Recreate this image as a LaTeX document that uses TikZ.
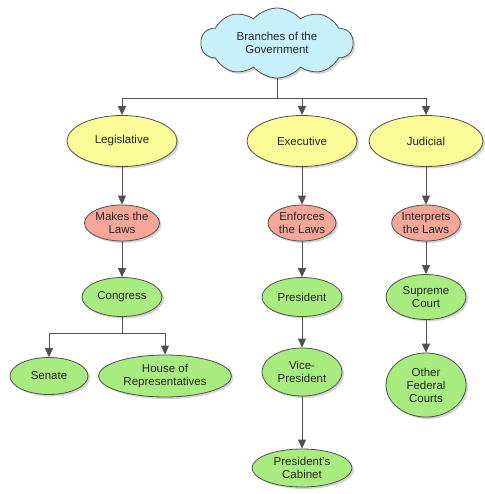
\documentclass[tikz,border=0pt]{standalone}
\usepackage{fontspec}
\setmainfont{Liberation Sans}
\usepackage{tikz}
\usetikzlibrary{shapes.geometric}
\usetikzlibrary{shapes.symbols}
\usetikzlibrary{shadows}
\usetikzlibrary{arrows.meta}
\usepackage{xcolor}

\definecolor{cloudblue}{RGB}{200,240,250}
\definecolor{branchyellow}{RGB}{250,250,150}
\definecolor{dutyred}{RGB}{244,166,152}
\definecolor{bodygreen}{RGB}{168,236,128}
\definecolor{edgegrey}{RGB}{80,80,80}

\tikzset{
	box/.style={ellipse, draw=edgegrey, line width=0.8pt, inner sep=0pt, align=center,
		text=black!85, font=\fontsize{11.5}{13}\selectfont,
		drop shadow={shadow xshift=2pt, shadow yshift=-2pt, opacity=0.35}},
	branch/.style={box, fill=branchyellow, minimum width=110pt, minimum height=51pt},
	duty/.style={box, fill=dutyred, minimum width=68pt, minimum height=36pt},
	body/.style={box, fill=bodygreen, minimum width=80pt, minimum height=39pt},
	link/.style={draw=edgegrey, line width=0.8pt, -{Triangle[length=9pt, width=8pt]}}
}

\begin{document}
\begin{tikzpicture}[x=1pt, y=-1pt]
	\useasboundingbox (0,0) rectangle (484,494);
	
	\node[cloud, cloud puffs=10, cloud puff arc=100, cloud ignores aspect, draw=edgegrey, line width=0.8pt,
		fill=cloudblue, minimum width=152pt, minimum height=70pt, inner sep=0pt, align=center,
		text=black!85, font=\fontsize{11.5}{13}\selectfont,
		drop shadow={shadow xshift=2pt, shadow yshift=-2pt, opacity=0.35}]
		(gov) at (277, 43) {Branches of the\\Government};
	
	% branches
	\node[branch] (leg) at (122, 141) {Legislative};
	\node[branch] (exe) at (302, 141) {Executive};
	\node[branch, minimum width=114pt] (jud) at (426, 141) {Judicial};
	
	\node[duty] (makes) at (122, 223) {Makes the\\Laws};
	\node[duty] (enforces) at (302, 223) {Enforces\\the Laws};
	\node[duty] (interprets) at (426, 223) {Interprets\\the Laws};
	
	\node[body] (congress) at (122, 297) {Congress};
	\node[body] (president) at (302, 297) {President};
	\node[body, minimum height=45pt] (supreme) at (426, 297) {Supreme\\Court};
	
	\node[body, minimum width=78pt, minimum height=37pt] (senate) at (49, 376) {Senate};
	\node[body, minimum width=133pt, minimum height=42pt] (house) at (165, 376) {House of\\Representatives};
	\node[body, minimum height=48pt] (vice) at (302, 372) {Vice-\\President};
	\node[body, minimum height=64pt] (courts) at (426, 385) {Other\\Federal\\Courts};
	\node[body, minimum width=100pt, minimum height=38pt] (cabinet) at (302, 468) {President's\\Cabinet};
	
	\coordinate (bus) at (277, 98);
	\coordinate (cbus) at (122, 333);
	
	\draw[draw=edgegrey, line width=0.8pt] (gov.south) -- (bus);
	\draw[link] (bus) -| (leg);
	\draw[link] (bus) -| (exe);
	\draw[link] (bus) -| (jud);
	
	\draw[link] (leg) -- (makes);
	\draw[link] (makes) -- (congress);
	\draw[draw=edgegrey, line width=0.8pt] (congress) -- (cbus);
	\draw[link] (cbus) -| (senate);
	\draw[link] (cbus) -| (house);
	
	\draw[link] (exe) -- (enforces);
	\draw[link] (enforces) -- (president);
	\draw[link] (president) -- (vice);
	\draw[link] (vice) -- (cabinet);
	
	\draw[link] (jud) -- (interprets);
	\draw[link] (interprets) -- (supreme);
	\draw[link] (supreme) -- (courts);
	
\end{tikzpicture}
\end{document}
